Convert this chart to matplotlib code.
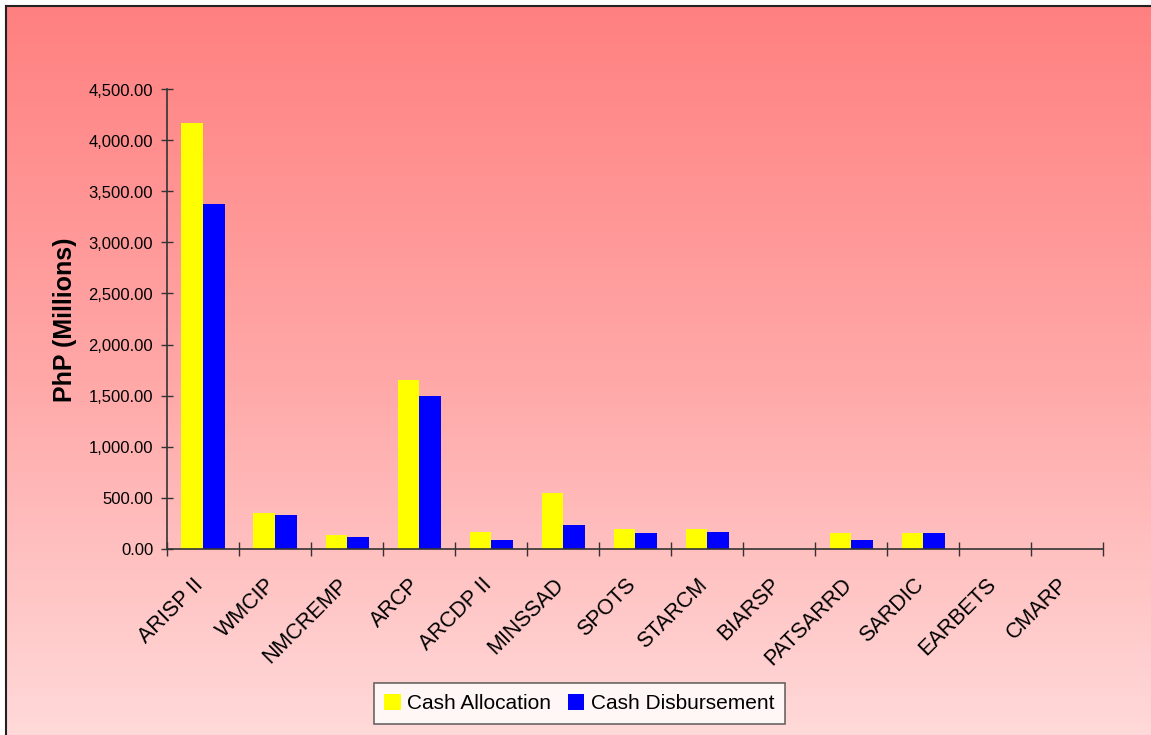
import numpy as np
import matplotlib
matplotlib.use("Agg")
import matplotlib.pyplot as plt
import matplotlib.transforms as mtransforms
from matplotlib.colors import LinearSegmentedColormap
from matplotlib.ticker import FuncFormatter, FixedLocator

plt.rcParams['font.family'] = ['Liberation Sans', 'DejaVu Sans']

# data (PhP millions)
programs = ["ARISP II", "WMCIP", "NMCREMP", "ARCP", "ARCDP II", "MINSSAD", "SPOTS",
            "STARCM", "BIARSP", "PATSARRD", "SARDIC", "EARBETS", "CMARP"]
cash_allocation = [4173, 355, 133, 1657, 170, 551, 199, 199, 0, 160, 160, 0, 0]
cash_disbursement = [3371, 329, 120, 1501, 91, 238, 160, 170, 0, 91, 160, 0, 0]

W, H = 1151, 735
# small offset so the float size rounds to the full pixel count
fig = plt.figure(figsize=(W / 100 + 0.004, H / 100 + 0.004), dpi=100)
fig.patch.set_facecolor("white")

# gradient background of the chart area (top red -> bottom pale pink), pixel coords
bg = fig.add_axes([0, 0, 1, 1], zorder=-2)
cmap = LinearSegmentedColormap.from_list("bg", ["#ff8080", "#ffa8a8", "#ffdcdc"])
grad = np.linspace(0, 1, 256).reshape(-1, 1)
bg.imshow(grad, aspect="auto", cmap=cmap, extent=[6, W + 20, -20, H - 6],
          origin="upper", interpolation="bilinear")
bg.plot([6, W + 20], [H - 6, H - 6], color="#222222", lw=1.5)
bg.plot([6, 6], [-20, H - 6], color="#222222", lw=1.5)
bg.set_xlim(0, W)
bg.set_ylim(0, H)
bg.set_axis_off()

ax = fig.add_axes([167 / W, 1 - 549 / H, (1103 - 167) / W, (549 - 89.5) / H])
ax.patch.set_alpha(0)

x = np.arange(len(programs))
w = 0.3
ax.bar(x - w / 2, cash_allocation, w, color="#ffff00", label="Cash Allocation")
ax.bar(x + w / 2, cash_disbursement, w, color="#0000ff", label="Cash Disbursement")

ax.set_xlim(-0.5, len(programs) - 0.5)
ax.set_ylim(0, 4500)
ax.set_yticks(np.arange(0, 4501, 500))
ax.yaxis.set_major_formatter(FuncFormatter(lambda v, p: f"{v:,.2f}"))
ax.tick_params(axis="y", direction="inout", length=8, width=1, labelsize=12, pad=6,
               color="#333333")

ax.xaxis.set_major_locator(FixedLocator(np.arange(-0.5, len(programs), 1.0)))
ax.xaxis.set_minor_locator(FixedLocator(x))
ax.set_xticklabels([], minor=False)
ax.set_xticklabels(programs, minor=True, rotation=45, ha="right",
                   rotation_mode="anchor", fontsize=15.5)
ax.tick_params(axis="x", which="major", direction="inout", length=10, width=1,
               color="#333333")
ax.tick_params(axis="x", which="minor", length=0, pad=18)
shift = mtransforms.ScaledTranslation(-10 / 100, 0, fig.dpi_scale_trans)
for lab in ax.get_xticklabels(minor=True):
    lab.set_transform(lab.get_transform() + shift)

for s in ["top", "right"]:
    ax.spines[s].set_visible(False)
for s in ["left", "bottom"]:
    ax.spines[s].set_color("#333333")
    ax.spines[s].set_linewidth(1.2)

ax.set_ylabel("PhP (Millions)", fontsize=18, fontweight="bold", labelpad=8)

leg = fig.legend(loc="center", bbox_to_anchor=(579 / W, 1 - 703.5 / H), ncol=2,
                 fontsize=15, frameon=True, fancybox=False, edgecolor="#444444",
                 handlelength=0.8, handleheight=0.8, handletextpad=0.3,
                 columnspacing=0.8, borderpad=0.5)
leg.get_frame().set_linewidth(1.2)

fig.savefig("out.png", dpi=100)
